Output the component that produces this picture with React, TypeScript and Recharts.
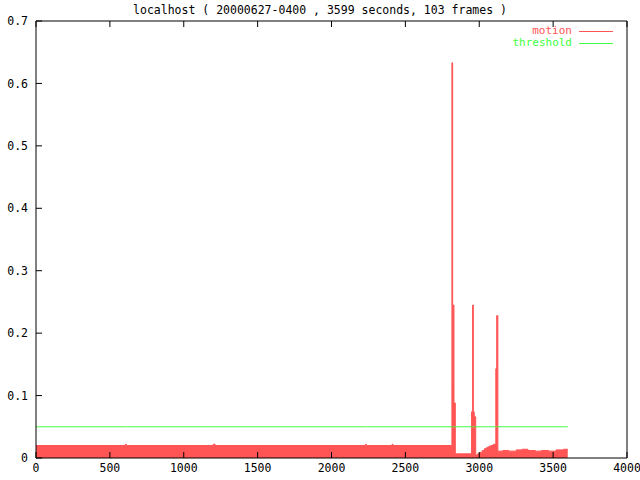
import React from 'react';
import { ComposedChart, Area, Line, XAxis, YAxis, Legend } from 'recharts';

// motion samples (seconds, value) - step shape
const motionTime = [
  0, 605, 612, 1200, 1212, 2230, 2236, 2410, 2416,
  2815, 2820, 2824, 2829, 2838,
  2948, 2955, 2960, 2966, 2976,
  2990, 3005, 3020, 3035, 3050, 3065, 3080, 3095,
  3112, 3118, 3126,
  3160, 3200, 3250, 3290, 3330, 3380, 3420, 3470, 3520, 3570, 3599,
];
const motionValue = [
  0.02, 0.022, 0.02, 0.022, 0.02, 0.022, 0.02, 0.022, 0.02,
  0.633, 0.12, 0.245, 0.088, 0.0067,
  0.074, 0.245, 0.074, 0.066, 0.005,
  0.007, 0.009, 0.012, 0.015, 0.017, 0.019, 0.02, 0.022,
  0.143, 0.228, 0.011,
  0.012, 0.011, 0.013, 0.014, 0.012, 0.011, 0.012, 0.011, 0.013, 0.014, 0.014,
];
const THRESHOLD = 0.05;

const xTicks = [0, 500, 1000, 1500, 2000, 2500, 3000, 3500, 4000];
const yTicks = [0, 0.1, 0.2, 0.3, 0.4, 0.5, 0.6, 0.7];

const MOTION_COLOR = '#ff5555';
const THRESH_COLOR = '#40ff40';
const FONT = '"DejaVu Sans Mono", monospace';
const FS = 11.5;

const data = motionTime.map((t, i) => ({
  t,
  motion: motionValue[i],
  threshold: THRESHOLD,
}));

const tickStyle = { fontFamily: FONT, fontSize: FS, fill: '#000' };

function KeyBox() {
  const rows = [
    { label: 'motion', color: MOTION_COLOR },
    { label: 'threshold', color: THRESH_COLOR },
  ];
  return (
    <div style={{ fontFamily: FONT, fontSize: 11 }}>
      {rows.map(r => (
        <div key={r.label} style={{ display: 'flex', alignItems: 'center', justifyContent: 'flex-end', height: 12 }}>
          <span style={{ color: r.color, lineHeight: '12px' }}>{r.label}</span>
          <span style={{ display: 'inline-block', width: 34, height: 1, background: r.color, marginLeft: 7 }} />
        </div>
      ))}
    </div>
  );
}

export default function App() {
  return (
    <div style={{ position: 'absolute', top: 0, left: 0, width: 640, height: 480, background: '#fff' }}>
      <div
        style={{
          position: 'absolute',
          top: 4,
          left: 0,
          width: 640,
          textAlign: 'center',
          fontFamily: FONT,
          fontSize: FS,
          lineHeight: '13px',
          color: '#000',
          whiteSpace: 'pre',
        }}
      >
        localhost ( 20000627-0400 , 3599 seconds, 103 frames )
      </div>
      <ComposedChart width={640} height={480} data={data} margin={{ top: 0, right: 0, bottom: 0, left: 0 }}>
        <XAxis
          xAxisId="bottom"
          dataKey="t"
          type="number"
          domain={[0, 4000]}
          ticks={xTicks}
          interval={0}
          height={22}
          tickSize={-6}
          tickMargin={12}
          tick={tickStyle}
          stroke="#000"
          tickLine={{ stroke: '#000' }}
          axisLine={{ stroke: '#000' }}
        />
        <XAxis
          xAxisId="top"
          orientation="top"
          dataKey="t"
          type="number"
          domain={[0, 4000]}
          ticks={xTicks}
          interval={0}
          height={21}
          tickSize={-6}
          tickFormatter={() => ''}
          stroke="#000"
          axisLine={{ stroke: '#000' }}
        />
        <YAxis
          yAxisId="left"
          type="number"
          domain={[0, 0.7]}
          ticks={yTicks}
          interval={0}
          width={36}
          tickSize={-6}
          tickMargin={14}
          tick={tickStyle}
          tickFormatter={(v: number) => (v === 0 ? '0' : v.toFixed(1))}
          stroke="#000"
          axisLine={{ stroke: '#000' }}
        />
        <YAxis
          yAxisId="right"
          orientation="right"
          type="number"
          domain={[0, 0.7]}
          ticks={yTicks}
          interval={0}
          width={13}
          tickSize={-6}
          tickFormatter={() => ''}
          stroke="#000"
          axisLine={{ stroke: '#000' }}
        />
        <Legend
          layout="horizontal"
          verticalAlign="middle"
          align="center"
          content={() => <KeyBox />}
          wrapperStyle={{ top: 25, right: 27, left: 'auto', width: 'auto' }}
        />
        <Area
          xAxisId="bottom"
          yAxisId="left"
          type="stepAfter"
          dataKey="motion"
          name="motion"
          stroke={MOTION_COLOR}
          strokeWidth={1}
          fill={MOTION_COLOR}
          fillOpacity={1}
          dot={false}
          activeDot={false}
          isAnimationActive={false}
        />
        <Line
          xAxisId="bottom"
          yAxisId="left"
          type="linear"
          dataKey="threshold"
          name="threshold"
          stroke={THRESH_COLOR}
          strokeWidth={1}
          dot={false}
          activeDot={false}
          isAnimationActive={false}
        />
      </ComposedChart>
    </div>
  );
}
